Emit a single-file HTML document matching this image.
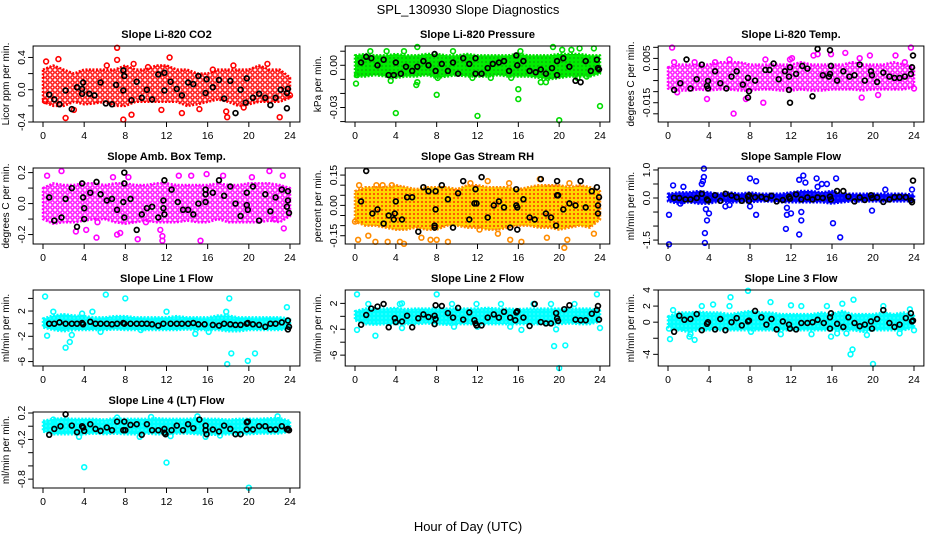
<!DOCTYPE html>
<html><head><meta charset="utf-8"><style>
html,body{margin:0;padding:0;background:#fff;}
svg{display:block;font-family:"Liberation Sans",sans-serif;}
</style></head><body>
<svg id="chart" width="936" height="540" viewBox="0 0 936 540" xmlns="http://www.w3.org/2000/svg">
<defs>
<pattern id="pat-red" width="5" height="5" patternUnits="userSpaceOnUse"><rect width="5" height="5" fill="#fff"/><circle cx="2.5" cy="2.5" r="1.7" fill="none" stroke="#ff0000" stroke-width="1.4"/></pattern>
<pattern id="pat-green" width="4" height="4" patternUnits="userSpaceOnUse"><rect width="4" height="4" fill="#00ee00"/><circle cx="2" cy="2" r="0.6" fill="#1a5a1a"/></pattern>
<pattern id="pat-magenta" width="5" height="5" patternUnits="userSpaceOnUse"><rect width="5" height="5" fill="#fff"/><circle cx="2.5" cy="2.5" r="1.7" fill="none" stroke="#ff00ff" stroke-width="1.4"/></pattern>
<pattern id="pat-orange" width="4" height="4" patternUnits="userSpaceOnUse"><rect width="4" height="4" fill="#ffd700"/><circle cx="2" cy="2" r="1.1" fill="#ff5000"/></pattern>
<pattern id="pat-blue" width="4" height="4" patternUnits="userSpaceOnUse"><rect width="4" height="4" fill="#0000ff"/><circle cx="2" cy="2" r="0.5" fill="#8080ff"/></pattern>
<pattern id="pat-cyan" width="4" height="4" patternUnits="userSpaceOnUse"><rect width="4" height="4" fill="#00ffff"/><circle cx="2" cy="2" r="0.5" fill="#bfffff"/></pattern>
</defs>
<text x="468" y="14" font-size="13" text-anchor="middle">SPL_130930  Slope Diagnostics</text>
<text x="468" y="531" font-size="13" text-anchor="middle">Hour of Day (UTC)</text>
</svg>
<script>
// ---- Data (estimated from reference) ----
const xTicks = [0,4,8,12,16,20,24];
const bandHours = [0,1,2,3,4,5,6,7,8,9,10,11,12,13,14,15,16,17,18,19,20,21,22,23,24];

const p1Title = "Slope Li-820 CO2";
const p1YLab = "Licor ppm per min.";
const p1Ticks = [-0.4,-0.2,0,0.2,0.4];
const p1TickLabels = ["-0.4","","0.0","","0.4"];
const p1Lo = [-0.15,-0.2,-0.2,-0.15,-0.18,-0.17,-0.15,-0.2,-0.2,-0.15,-0.15,-0.15,-0.15,-0.15,-0.2,-0.18,-0.15,-0.12,-0.15,-0.2,-0.18,-0.15,-0.15,-0.15,-0.1];
const p1Hi = [0.25,0.3,0.25,0.2,0.25,0.25,0.25,0.25,0.3,0.25,0.25,0.3,0.3,0.25,0.25,0.2,0.2,0.25,0.25,0.25,0.25,0.3,0.25,0.25,0.15];
const p1Out = [[0.3,0.35],[1.5,0.38],[2.2,-0.35],[7.2,0.52],[7.2,0.37],[7.8,-0.37],[8.6,-0.31],[8.8,0.32],[12.3,0.4],[13.5,-0.29],[15.2,-0.24],[17.8,-0.27],[17.9,-0.34],[18.5,0.3],[19.5,-0.22],[21.8,0.32],[23,-0.34],[11.5,-0.25],[6.2,0.3],[3,-0.25],[0.2,-0.14],[24,-0.07],[10.2,0.28],[16.5,0.25]];
const p1Blk = [[0.6,-0.06],[1.1,-0.12],[1.6,-0.18],[2.2,-0.01],[2.8,-0.24],[3.3,0.03],[3.8,0.01],[3.9,0.09],[3.8,-0.05],[4.5,-0.05],[5.0,-0.07],[5.6,0.09],[6.1,-0.17],[6.7,-0.18],[7.1,0.06],[7.8,0.24],[7.9,0.17],[7.8,-0.01],[8.6,-0.13],[9.1,0.1],[9.6,-0.1],[10.1,0.0],[10.6,-0.12],[11.2,0.19],[11.8,0.21],[11.8,-0.01],[12.4,0.1],[13,0.01],[13.5,-0.07],[14.1,0.09],[14.6,0.07],[15.1,0.17],[15.8,-0.04],[15.9,0.13],[16.5,0.03],[17.1,0.12],[17.6,-0.11],[18.2,0.11],[18.7,-0.29],[19.2,0.0],[19.8,0.14],[19.7,-0.16],[20.4,-0.1],[21.0,-0.05],[21.6,-0.1],[22.1,-0.19],[22.6,-0.1],[23.1,0.0],[23.7,-0.23],[23.8,0.01],[23.7,-0.04]];

const p2Title = "Slope Li-820 Pressure";
const p2YLab = "kPa per min.";
const p2Ticks = [-0.04,-0.03,-0.02,-0.01,0,0.01];
const p2TickLabels = ["","-0.03","","","0.00",""];
const p2Lo = [-0.008,-0.008,-0.007,-0.008,-0.009,-0.008,-0.008,-0.007,-0.009,-0.008,-0.007,-0.008,-0.008,-0.008,-0.007,-0.008,-0.008,-0.008,-0.009,-0.010,-0.009,-0.008,-0.008,-0.008,-0.006];
const p2Hi = [0.007,0.008,0.007,0.007,0.008,0.007,0.007,0.008,0.008,0.007,0.007,0.008,0.007,0.007,0.007,0.007,0.008,0.007,0.007,0.007,0.008,0.008,0.008,0.007,0.007];
const p2Out = [[0.1,-0.013],[0.2,-0.007],[1.5,0.01],[3.1,0.01],[3.5,-0.011],[4,-0.034],[4.8,0.01],[6.1,0.013],[6.0,-0.014],[6.1,-0.012],[8.0,-0.021],[8.1,-0.009],[9.6,0.01],[12,-0.036],[11.5,-0.009],[13.3,-0.009],[15.3,-0.009],[16.0,-0.017],[16.0,-0.024],[16.2,0.01],[18.2,-0.012],[18.7,-0.012],[19.4,0.013],[20,-0.039],[20.3,0.011],[21.2,0.011],[22,0.012],[21.8,-0.009],[22.7,-0.008],[23.4,0.012],[24,-0.029]];
const p2Blk = [[0.6,0.002],[1.1,0.006],[1.6,0.005],[2.2,0.0],[2.8,0.004],[3.3,-0.007],[3.8,-0.007],[4.0,0.002],[4.5,-0.006],[5.0,-0.001],[5.6,-0.004],[6.1,-0.001],[6.7,0.003],[7.2,0.0],[7.8,0.008],[7.9,-0.004],[8.5,0.001],[9.1,-0.004],[9.6,0.002],[10.1,-0.006],[10.6,0.005],[11.2,0.001],[11.8,0.005],[11.8,-0.006],[12.4,-0.006],[13.0,-0.002],[13.5,0.001],[14.1,0.002],[14.6,0.003],[15.1,-0.004],[15.8,0.007],[15.9,0.0],[16.5,0.003],[17.1,-0.004],[17.7,-0.005],[18.2,-0.003],[18.7,-0.006],[19.3,-0.002],[19.8,0.003],[19.8,-0.007],[20.4,0.005],[21.0,-0.001],[21.6,-0.011],[22.1,-0.012],[22.6,0.003],[23.1,-0.004],[23.7,0.004],[23.8,-0.002],[23.9,-0.003]];

const p3Title = "Slope Li-820 Temp.";
const p3YLab = "degrees C per min.";
const p3Ticks = [-0.02,-0.015,-0.01,-0.005,0,0.005,0.01];
const p3TickLabels = ["","-0.015","","","","0.005",""];
const p3Lo = [-0.0086,-0.0095,-0.0095,-0.009,-0.0095,-0.009,-0.009,-0.0095,-0.0095,-0.009,-0.009,-0.0095,-0.0095,-0.009,-0.0095,-0.0095,-0.009,-0.009,-0.009,-0.0095,-0.009,-0.009,-0.009,-0.009,-0.008];
const p3Hi = [0.001,0.0022,0.0022,0.0022,0.0022,0.0033,0.0033,0.0033,0.0022,0.0022,0.0022,0.0022,0.0022,0.0033,0.0022,0.0022,0.0022,0.0022,0.0033,0.0022,0.0022,0.0022,0.0033,0.0022,0.001];
const p3Out = [[0.4,0.0099],[0.6,0.0033],[2.6,0.0033],[3.8,-0.0133],[4.6,0.0033],[6.0,0.0045],[6.4,-0.0199],[7.6,-0.0133],[9.3,-0.015],[9.5,0.0045],[11.9,0.0045],[12.1,0.0051],[14.6,0.0069],[14.2,0.0063],[15.9,0.0069],[17.3,0.0075],[18.7,0.0051],[18.9,-0.0127],[19.7,0.0063],[20.5,-0.0115],[22.2,0.0063],[23.1,0.0033],[23.7,0.0099],[24,-0.0086],[0.9,-0.0103]];
const p3Blk = [[0.6,-0.0092],[1.2,-0.0062],[1.8,0.0045],[2.2,-0.0086],[2.8,-0.0044],[3.3,0.0022],[3.8,-0.0074],[3.9,-0.0086],[3.9,-0.0052],[4.6,-0.0008],[5.1,-0.0062],[5.7,-0.0086],[6.2,-0.0032],[6.7,-0.0008],[7.3,-0.0068],[7.8,-0.0127],[7.9,-0.0098],[7.8,-0.0038],[8.5,-0.005],[9.5,-0.0002],[9.9,-0.0002],[10.3,0.0027],[10.8,-0.0044],[11.4,-0.0008],[11.8,-0.0032],[11.9,0.001],[11.8,-0.0092],[11.9,-0.015],[12.5,-0.002],[13.1,0.0016],[13.6,0.0004],[14.1,-0.0121],[14.6,0.0093],[15.1,-0.0026],[15.7,-0.0032],[15.8,-0.002],[15.9,0.0016],[15.8,0.0087],[16.5,-0.005],[17.1,-0.0008],[17.7,-0.0032],[18.2,-0.0026],[18.7,0.0022],[19.2,-0.005],[19.8,-0.0008],[19.9,-0.0026],[20.4,-0.0056],[21.0,-0.0014],[21.6,-0.0032],[22.1,-0.0038],[22.6,-0.0038],[23.1,-0.0032],[23.7,-0.002],[23.8,0.001],[23.9,0.0063]];

const p4Title = "Slope Amb. Box Temp.";
const p4YLab = "degrees C per min.";
const p4Ticks = [-0.2,-0.1,0,0.1,0.2];
const p4TickLabels = ["-0.2","","0.0","","0.2"];
const p4Lo = [-0.1,-0.13,-0.12,-0.12,-0.11,-0.1,-0.1,-0.12,-0.13,-0.12,-0.11,-0.12,-0.12,-0.12,-0.11,-0.12,-0.12,-0.1,-0.12,-0.12,-0.12,-0.12,-0.11,-0.12,-0.08];
const p4Hi = [0.1,0.13,0.12,0.12,0.13,0.13,0.12,0.13,0.13,0.12,0.12,0.13,0.13,0.12,0.12,0.12,0.12,0.13,0.12,0.12,0.13,0.13,0.13,0.12,0.1];
const p4Out = [[0.4,0.18],[1.8,0.21],[3.2,-0.18],[4.2,-0.17],[5.2,-0.22],[6.8,0.17],[7.2,-0.2],[7.5,-0.19],[8.3,0.17],[9.2,-0.23],[10,-0.12],[11.4,-0.17],[11.6,-0.21],[11.6,-0.24],[13.2,0.18],[14.4,0.18],[15.3,-0.24],[15.9,0.19],[17.5,0.18],[20.3,0.17],[22.0,0.21],[22.5,-0.1],[23.3,0.18],[23.4,-0.16],[5.3,-0.12]];
const p4Blk = [[0.6,0.04],[1.1,-0.11],[1.8,-0.09],[2.2,0.03],[2.8,0.1],[3.3,-0.15],[3.8,0.13],[3.9,0.04],[4.0,-0.03],[4.0,-0.1],[4.6,0.07],[5.2,0.14],[5.6,0.06],[6.2,0.02],[6.7,0.03],[7.2,-0.04],[7.8,0.01],[7.9,-0.09],[7.9,0.13],[7.9,0.2],[8.5,0.03],[9.1,-0.17],[9.6,-0.07],[10.1,-0.03],[10.6,-0.02],[11.2,-0.09],[11.7,-0.03],[11.7,0.02],[11.8,0.15],[11.8,-0.07],[12.5,0.09],[13.1,0.01],[13.6,-0.04],[14.1,-0.04],[14.6,-0.07],[15.1,0.0],[15.8,0.09],[15.8,0.01],[15.8,0.06],[16.5,0.07],[17.1,0.15],[17.6,0.05],[18.2,0.11],[18.7,0.0],[19.2,-0.08],[19.8,0.07],[19.8,-0.01],[19.9,-0.04],[20.4,0.11],[21.0,-0.11],[21.6,0.06],[22.1,-0.05],[22.6,0.04],[23.2,0.09],[23.7,-0.02],[23.8,0.08],[23.8,0.02],[23.9,-0.06]];

const p5Title = "Slope Gas Stream RH";
const p5YLab = "percent per min.";
const p5Ticks = [-0.15,-0.1,-0.05,0,0.05,0.1,0.15];
const p5TickLabels = ["-0.15","","","0.00","","","0.15"];
const p5Lo = [-0.08,-0.1,-0.1,-0.11,-0.12,-0.12,-0.11,-0.12,-0.12,-0.1,-0.1,-0.11,-0.11,-0.12,-0.12,-0.11,-0.1,-0.1,-0.11,-0.11,-0.12,-0.11,-0.1,-0.11,-0.07];
const p5Hi = [0.07,0.09,0.09,0.09,0.1,0.09,0.08,0.09,0.09,0.09,0.08,0.1,0.1,0.09,0.09,0.09,0.08,0.09,0.1,0.1,0.1,0.09,0.1,0.09,0.07];
const p5Out = [[0.3,-0.17],[0.4,0.1],[1.3,-0.15],[2.0,-0.18],[2.1,0.1],[2.7,0.1],[3.2,-0.18],[3.6,0.1],[4.4,-0.18],[4.8,-0.19],[6.5,-0.16],[7.4,-0.17],[8.0,-0.17],[9.1,-0.18],[11.3,0.11],[12.2,-0.12],[13.0,0.12],[14.0,-0.14],[15.2,-0.17],[15.1,0.11],[16.3,-0.18],[18.1,0.13],[18.8,-0.16],[20.5,-0.21],[20.8,-0.17],[21.0,0.11],[23.4,-0.14],[0.0,-0.08]];
const p5Blk = [[0.6,0.02],[1.1,0.17],[1.7,-0.04],[2.2,-0.02],[2.8,-0.09],[3.3,-0.05],[3.8,-0.07],[3.9,-0.04],[4.0,0.02],[4.6,-0.07],[5.1,0.04],[5.6,0.04],[6.2,-0.13],[6.7,0.09],[7.2,0.07],[7.8,-0.1],[7.8,-0.11],[7.9,-0.02],[7.9,0.07],[8.5,0.1],[9.1,0.03],[9.6,-0.11],[10.1,0.06],[10.6,0.12],[11.2,-0.07],[11.7,0.01],[11.8,0.08],[11.9,0.01],[12.4,0.14],[13.0,-0.06],[13.6,0.0],[14.1,0.02],[14.6,-0.01],[15.2,-0.11],[15.8,0.08],[15.8,0.0],[15.9,-0.01],[15.9,-0.12],[16.5,0.03],[17.1,-0.06],[17.6,-0.07],[18.2,0.13],[18.7,-0.04],[19.2,-0.06],[19.7,-0.1],[19.8,0.05],[19.9,0.05],[19.8,0.12],[20.4,-0.02],[21.0,0.01],[21.6,0.0],[22.1,0.12],[22.6,-0.01],[23.2,0.07],[23.7,0.09],[23.8,-0.04],[23.8,0.0],[23.9,0.04]];

const p6Title = "Slope Sample Flow";
const p6YLab = "ml/min per min.";
const p6Ticks = [-1.5,-1,-0.5,0,0.5,1];
const p6TickLabels = ["-1.5","","","0.0","","1.0"];
const p6Lo = [-0.12,-0.2,-0.15,-0.2,-0.2,-0.12,-0.15,-0.15,-0.15,-0.12,-0.12,-0.15,-0.15,-0.15,-0.15,-0.15,-0.2,-0.15,-0.12,-0.12,-0.12,-0.12,-0.12,-0.12,-0.1];
const p6Hi = [0.15,0.2,0.2,0.25,0.2,0.15,0.2,0.15,0.2,0.15,0.15,0.15,0.2,0.25,0.25,0.2,0.25,0.15,0.15,0.15,0.15,0.15,0.15,0.15,0.12];
const p6Out = [[0.1,-0.6],[0.1,-1.65],[0.5,0.45],[1.5,0.4],[1.2,-0.2],[3.3,0.5],[3.5,1.05],[3.5,0.75],[3.4,0.6],[3.6,-1.6],[3.6,-1.25],[3.7,-0.4],[3.8,-0.8],[4.0,-0.55],[5.6,-0.3],[6.0,-0.25],[8.0,0.7],[8.6,0.6],[8.6,-0.6],[8.0,-0.3],[11.6,-0.35],[11.6,-0.6],[11.5,-1.1],[12.0,-0.55],[12.8,-1.3],[13.0,-0.8],[12.8,0.65],[13.2,0.8],[13.4,0.55],[13.0,-0.5],[14.5,0.7],[14.6,0.4],[15.0,0.5],[15.5,0.5],[16.1,-0.9],[16.4,0.7],[16.8,-1.4],[19.9,-0.45],[21.2,0.3],[23.8,0.3]];
const p6Blk = [[0.6,0.01],[1.1,0.0],[1.7,-0.05],[2.2,-0.05],[2.8,0.0],[3.3,0.15],[3.8,-0.05],[3.9,-0.09],[4.6,0.1],[5.1,-0.1],[5.6,0.15],[6.2,0.09],[6.7,0.03],[7.2,-0.1],[7.8,0.05],[7.9,0.1],[7.9,-0.1],[8.5,0.03],[9.1,0.04],[9.6,-0.03],[10.1,0.08],[10.6,-0.12],[11.2,-0.07],[11.8,0.04],[11.9,-0.02],[12.5,0.13],[13.0,-0.05],[13.6,0.02],[14.1,-0.05],[14.6,0.02],[15.1,0.0],[15.8,0.05],[15.9,-0.05],[16.5,0.25],[17.1,0.25],[17.6,0.05],[18.2,-0.12],[18.7,0.02],[19.2,-0.07],[19.8,0.1],[19.9,0.0],[20.4,0.02],[21.0,-0.14],[21.6,-0.05],[22.1,0.03],[22.6,0.04],[23.2,0.03],[23.7,-0.09],[23.8,-0.15],[23.9,0.62]];

const p7Title = "Slope Line 1 Flow";
const p7YLab = "ml/min per min.";
const p7Ticks = [-6,-4,-2,0,2,4];
const p7TickLabels = ["-6","","-2","","2",""];
const p7Lo = [-0.6,-1.0,-1.2,-1.0,-1.0,-1.0,-1.0,-0.9,-1.0,-1.0,-1.0,-1.0,-1.0,-1.0,-0.9,-1.0,-1.0,-1.0,-1.2,-1.2,-1.0,-1.0,-1.0,-1.0,-0.8];
const p7Hi = [0.8,1.3,1.5,1.3,1.2,1.0,1.0,1.2,1.2,1.0,1.0,1.0,1.0,1.2,1.0,1.0,1.0,1.3,1.3,1.0,1.0,1.0,1.0,1.0,0.8];
const p7Out = [[0.2,4.3],[0.4,-1.9],[1.0,1.9],[2.2,-3.8],[2.6,-2.9],[2.8,-1.8],[3.8,1.6],[4.8,1.9],[5.6,-1.3],[6.1,4.6],[8.0,4.0],[12.0,1.9],[16.1,-1.3],[17.8,1.9],[17.9,-6.4],[18.1,4.0],[18.3,-4.7],[19.9,-5.9],[20.6,-4.7],[23.7,2.6],[9.5,-1.0],[14.8,-1.6]];
const p7Blk = [[0.6,0],[1.1,0],[1.6,0.2],[2.2,0],[2.8,0],[3.3,0],[3.8,0.1],[3.9,-0.1],[4.6,0.3],[5.1,0],[5.6,0],[6.2,0],[6.7,-0.1],[7.2,0],[7.8,0.1],[7.9,0],[8.5,0],[9.1,0],[9.6,0],[10.1,0],[10.6,-0.1],[11.2,-0.3],[11.7,0],[12.4,0],[13.0,0],[13.5,0],[14.1,0],[14.6,0.1],[15.1,-0.1],[15.7,-0.1],[16.5,-0.2],[17.1,-0.3],[17.6,0],[18.2,-0.1],[18.7,-0.2],[19.2,-0.2],[19.8,0],[19.9,0.1],[20.4,-0.1],[21.0,-0.2],[21.6,-0.5],[22.1,0],[22.6,0],[23.2,0.2],[23.8,0.5],[23.9,-0.5],[23.8,-0.9]];

const p8Title = "Slope Line 2 Flow";
const p8YLab = "ml/min per min.";
const p8Ticks = [-6,-4,-2,0,2];
const p8TickLabels = ["-6","","-2","","2"];
const p8Lo = [-0.6,-1.2,-1.3,-1.2,-1.2,-1.2,-1.2,-1.1,-1.2,-1.3,-1.2,-1.2,-1.2,-1.2,-1.2,-1.2,-1.2,-1.2,-1.2,-1.3,-1.2,-1.1,-1.2,-1.2,-0.8];
const p8Hi = [0.8,1.2,1.2,1.2,1.3,1.1,1.2,1.2,1.2,1.2,1.2,1.2,1.2,1.3,1.2,1.2,1.1,1.2,1.2,1.2,1.2,1.2,1.2,1.2,0.9];
const p8Out = [[0.2,3.4],[0.2,-2.1],[1.3,1.9],[2.0,-3.0],[4.4,1.9],[4.6,2.0],[4.6,-1.8],[8.0,3.4],[9.5,1.9],[9.7,-1.6],[11.9,1.9],[12.0,-1.6],[14.3,1.9],[15.2,-1.6],[16.3,-2.1],[17.5,1.9],[19.2,1.9],[19.5,-4.6],[19.7,-2.0],[20.0,-8.0],[20.6,-4.5],[21.5,1.9],[23.7,3.4],[24.0,-1.8]];
const p8Blk = [[0.6,-1.3],[1.1,0.2],[1.6,1.2],[2.2,1.5],[2.8,1.9],[3.3,-1.7],[3.9,-0.3],[4.0,-0.9],[4.6,-0.8],[5.1,0.1],[5.6,-1.7],[6.2,-0.3],[6.7,0.3],[7.2,-0.1],[7.8,0.1],[7.8,-1.2],[7.9,1.7],[7.9,-0.4],[8.5,1.6],[9.1,0.5],[9.6,-0.2],[10.1,1.3],[10.6,-0.5],[11.2,0.6],[11.7,-0.6],[11.8,-1.1],[11.9,-1.4],[12.4,-1.4],[13.0,-0.2],[13.6,0.3],[14.1,-0.2],[14.6,0.7],[15.2,-0.2],[15.7,-0.6],[15.8,0.6],[15.9,0.8],[16.5,-0.2],[17.1,-1.5],[17.6,1.9],[18.2,-0.9],[18.7,-1.1],[19.2,-1.1],[19.7,0.5],[19.8,-0.3],[19.9,-0.7],[20.5,1.1],[21.0,1.7],[21.6,-0.5],[22.1,-0.6],[22.6,-0.6],[23.2,0.4],[23.7,1.0],[23.8,1.6],[23.9,-0.5]];

const p9Title = "Slope Line 3 Flow";
const p9YLab = "ml/min per min.";
const p9Ticks = [-4,-2,0,2,4];
const p9TickLabels = ["-4","","0","2","4"];
const p9Lo = [-0.6,-1.0,-1.2,-1.0,-1.0,-1.0,-1.0,-1.0,-1.0,-1.0,-1.0,-1.0,-1.0,-1.0,-1.0,-1.0,-1.0,-1.0,-1.0,-1.2,-1.0,-1.0,-1.0,-1.0,-0.7];
const p9Hi = [0.7,1.2,1.2,1.3,1.2,1.2,1.0,1.2,1.4,1.2,1.2,1.0,1.0,1.0,1.0,1.2,1.0,1.4,1.0,1.0,1.0,1.2,1.0,1.2,0.8];
const p9Out = [[0.1,-0.8],[0.5,1.5],[2.2,-1.5],[3.3,2.0],[4.4,2.2],[6.0,2.0],[7.8,3.9],[8.1,-1.2],[10.0,2.5],[11.0,-1.5],[13.0,2.0],[14.0,-1.5],[15.5,2.0],[16.5,-1.4],[17.0,2.3],[17.8,-4.0],[18.0,-3.4],[20.0,-5.2],[21.0,2.0],[22.6,-1.4],[23.6,1.6],[24.0,-1.0],[6.1,3.1],[12.0,2.1],[18.1,2.8],[0.2,-2.1],[2.1,-1.8],[2.6,-2.2],[15.9,-1.8],[17.4,-1.4],[19.4,-1.6]];
const p9Blk = [[0.6,-1.2],[1.1,0.8],[1.6,0.3],[2.2,0.4],[2.8,1.0],[3.3,-1.0],[3.8,-0.2],[3.9,0.0],[4.6,-0.9],[5.1,0.4],[5.6,-1.0],[6.2,0.0],[6.7,0.5],[7.2,-0.4],[7.8,0.1],[7.9,0.2],[8.5,1.4],[9.1,0.6],[9.6,-0.3],[10.1,0.4],[10.6,-0.9],[11.2,0.1],[11.8,-0.3],[11.9,-0.8],[12.5,-0.9],[13.0,-0.1],[13.6,-0.1],[14.1,0.0],[14.6,0.3],[15.2,-0.1],[15.8,0.6],[15.8,-0.8],[15.9,1.1],[16.5,-0.2],[17.1,-0.6],[17.6,0.6],[18.2,-0.1],[18.7,-0.5],[19.2,-0.3],[19.8,0.1],[19.9,-0.8],[20.4,0.4],[21.0,1.5],[21.6,-0.1],[22.1,-0.6],[22.6,-0.3],[23.2,0.5],[23.7,1.1],[23.8,0.1],[23.9,0.2]];

const p10Title = "Slope Line 4 (LT) Flow";
const p10YLab = "ml/min per min.";
const p10Ticks = [-0.8,-0.6,-0.4,-0.2,0,0.2];
const p10TickLabels = ["-0.8","","","-0.2","","0.2"];
const p10Lo = [-0.08,-0.12,-0.12,-0.12,-0.12,-0.11,-0.12,-0.11,-0.12,-0.12,-0.11,-0.12,-0.12,-0.11,-0.11,-0.12,-0.13,-0.13,-0.12,-0.12,-0.12,-0.11,-0.11,-0.11,-0.08];
const p10Hi = [0.08,0.11,0.12,0.11,0.11,0.11,0.1,0.12,0.11,0.11,0.11,0.12,0.11,0.11,0.11,0.12,0.11,0.11,0.1,0.11,0.11,0.11,0.12,0.12,0.08];
const p10Out = [[4.0,-0.62],[12.0,-0.55],[20.0,-0.93],[3.5,-0.16],[9.4,-0.16],[12.4,-0.15],[15.8,-0.16],[17.2,-0.14],[1.0,0.1],[22.8,0.15],[15.0,0.15],[10.5,0.14],[7.2,0.13]];
const p10Blk = [[0.6,-0.13],[1.1,-0.04],[1.7,0.0],[2.2,0.18],[2.8,0.01],[3.3,-0.09],[3.8,0.0],[3.9,-0.02],[4.0,-0.07],[4.6,0.03],[5.1,-0.04],[5.6,-0.07],[6.2,-0.02],[6.7,-0.06],[7.2,0.07],[7.8,-0.06],[7.9,0.07],[8.0,-0.06],[8.5,0.02],[9.1,0.03],[9.6,-0.13],[10.1,0.03],[10.6,-0.06],[11.2,-0.06],[11.8,-0.1],[11.8,-0.04],[11.9,-0.12],[12.5,-0.06],[13.0,0.01],[13.6,-0.06],[14.1,0.03],[14.6,-0.03],[15.2,0.1],[15.8,0.01],[15.8,-0.06],[15.9,-0.12],[16.5,-0.05],[17.1,-0.08],[17.6,0.01],[18.2,-0.04],[18.7,-0.12],[19.2,-0.12],[19.8,-0.05],[19.8,0.06],[19.9,0.07],[20.4,-0.05],[21.0,0.0],[21.6,0.0],[22.1,-0.05],[22.6,-0.05],[23.2,0.0],[23.7,-0.05],[23.8,-0.04],[23.9,-0.06]];

// ---- Layout ----
const NS = "http://www.w3.org/2000/svg";
const svg = document.getElementById("chart");
const cols = [[43,290],[355,600],[668,914]];
const rowTops = [46,168,290,412];
const boxH = 76;

const panels = [
  {t:p1Title,yl:p1YLab,ticks:p1Ticks,tl:p1TickLabels,lo:p1Lo,hi:p1Hi,out:p1Out,blk:p1Blk,col:"#ff0000",pat:"pat-red",r:0,c:0,ylim:[-0.40,0.542],key:"co2"},
  {t:p2Title,yl:p2YLab,ticks:p2Ticks,tl:p2TickLabels,lo:p2Lo,hi:p2Hi,out:p2Out,blk:p2Blk,col:"#00dd00",pat:"pat-green",r:0,c:1,ylim:[-0.0403,0.0137],key:"pressure"},
  {t:p3Title,yl:p3YLab,ticks:p3Ticks,tl:p3TickLabels,lo:p3Lo,hi:p3Hi,out:p3Out,blk:p3Blk,col:"#ff00ff",pat:"pat-magenta",r:0,c:2,ylim:[-0.0237,0.0106],key:"li820-temp"},
  {t:p4Title,yl:p4YLab,ticks:p4Ticks,tl:p4TickLabels,lo:p4Lo,hi:p4Hi,out:p4Out,blk:p4Blk,col:"#ff00ff",pat:"pat-magenta",r:1,c:0,ylim:[-0.261,0.2297],key:"amb-box-temp"},
  {t:p5Title,yl:p5YLab,ticks:p5Ticks,tl:p5TickLabels,lo:p5Lo,hi:p5Hi,out:p5Out,blk:p5Blk,col:"#ff8c00",pat:"pat-orange",r:1,c:1,ylim:[-0.191,0.185],key:"gas-rh"},
  {t:p6Title,yl:p6YLab,ticks:p6Ticks,tl:p6TickLabels,lo:p6Lo,hi:p6Hi,out:p6Out,blk:p6Blk,col:"#0000ff",pat:"pat-blue",r:1,c:2,ylim:[-1.64,1.07],key:"sample-flow"},
  {t:p7Title,yl:p7YLab,ticks:p7Ticks,tl:p7TickLabels,lo:p7Lo,hi:p7Hi,out:p7Out,blk:p7Blk,col:"#00ffff",pat:"pat-cyan",r:2,c:0,ylim:[-6.7,5.33],key:"line1-flow"},
  {t:p8Title,yl:p8YLab,ticks:p8Ticks,tl:p8TickLabels,lo:p8Lo,hi:p8Hi,out:p8Out,blk:p8Blk,col:"#00ffff",pat:"pat-cyan",r:2,c:1,ylim:[-7.68,4.07],key:"line2-flow"},
  {t:p9Title,yl:p9YLab,ticks:p9Ticks,tl:p9TickLabels,lo:p9Lo,hi:p9Hi,out:p9Out,blk:p9Blk,col:"#00ffff",pat:"pat-cyan",r:2,c:2,ylim:[-5.45,4.0],key:"line3-flow"},
  {t:p10Title,yl:p10YLab,ticks:p10Ticks,tl:p10TickLabels,lo:p10Lo,hi:p10Hi,out:p10Out,blk:p10Blk,col:"#00ffff",pat:"pat-cyan",r:3,c:0,ylim:[-0.934,0.215],key:"line4-flow"}
];

function mk(tag, attrs, parent){
  const e = document.createElementNS(NS, tag);
  for (const k in attrs) e.setAttribute(k, attrs[k]);
  (parent||svg).appendChild(e);
  return e;
}

panels.forEach(p => {
  const [x0, x24] = cols[p.c];
  const k = (x24 - x0) / 24;
  const bl = x0 - 0.96 * k, br = x24 + 0.96 * k;
  const bt = rowTops[p.r], bb = bt + boxH;
  const X = h => x0 + h * k;
  const Y = v => bb - (v - p.ylim[0]) / (p.ylim[1] - p.ylim[0]) * boxH;

  const g = mk("g", {});
  
  

  let pts = bandHours.map((h,i) => X(h).toFixed(1) + "," + Y(p.hi[i]).toFixed(1));
  for (let i = bandHours.length - 1; i >= 0; i--) pts.push(X(bandHours[i]).toFixed(1) + "," + Y(p.lo[i]).toFixed(1));
  const band = mk("polygon", {points: pts.join(" "), fill: "url(#" + p.pat + ")", stroke: p.col, "stroke-width": "2.5", "stroke-linejoin": "round", "stroke-dasharray": "2 1.5"}, g);
  
  

  p.out.forEach(d => {
    const c = mk("circle", {cx: X(d[0]).toFixed(1), cy: Y(d[1]).toFixed(1), r: "2.4", fill: "none", stroke: p.col, "stroke-width": "1.6"}, g);
    
    
  });
  p.blk.forEach(d => {
    const c = mk("circle", {cx: X(d[0]).toFixed(1), cy: Y(d[1]).toFixed(1), r: "2.4", fill: "none", stroke: "#000", "stroke-width": "1.7"}, g);
    
    
  });

  const box = mk("rect", {x: bl.toFixed(1), y: bt, width: (br - bl).toFixed(1), height: boxH, fill: "none", stroke: "#000", "stroke-width": "1"}, g);
  
  

  xTicks.forEach(t => {
    mk("line", {x1: X(t), x2: X(t), y1: bb, y2: bb + 5, stroke: "#000"}, g);
    const tx = mk("text", {x: X(t), y: bb + 17, "font-size": "10.5", "text-anchor": "middle"}, g);
    tx.textContent = t;
    
    
  });
  p.ticks.forEach((t,i) => {
    const y = Y(t);
    if (y < bt - 0.5 || y > bb + 0.5) return;
    mk("line", {x1: bl - 5, x2: bl, y1: y, y2: y, stroke: "#000"}, g);
    if (p.tl[i]) {
      const tx = mk("text", {x: bl - 8, y: y, "font-size": "10.5", "text-anchor": "middle", transform: "rotate(-90 " + (bl - 8) + " " + y + ")"}, g);
      tx.textContent = p.tl[i];
      
      
    }
  });
  const yt = mk("text", {x: bl - 24, y: bt + boxH / 2, "font-size": "10", "text-anchor": "middle", transform: "rotate(-90 " + (bl - 24) + " " + (bt + boxH / 2) + ")"}, g);
  yt.textContent = p.yl;
  
  

  const tt = mk("text", {x: (bl + br) / 2, y: bt - 8, "font-size": "11", "font-weight": "bold", "text-anchor": "middle"}, g);
  tt.textContent = p.t;
  
  
});
</script>
</body></html>
